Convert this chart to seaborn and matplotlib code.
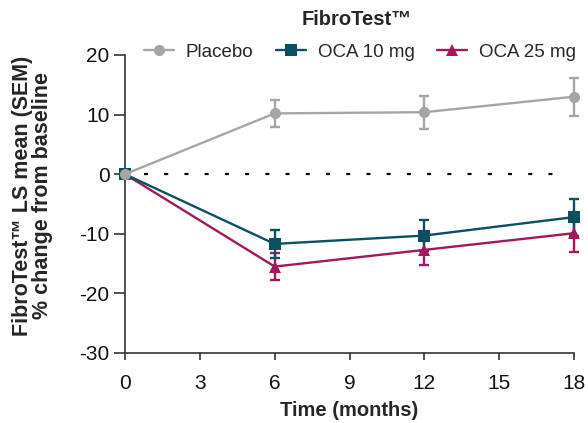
import numpy
import pandas
import seaborn
import matplotlib.pyplot as pyplot

seaborn.set_style('ticks')
pyplot.rcParams['font.family'] = ['Liberation Sans', 'DejaVu Sans']
pyplot.rcParams['axes.unicode_minus'] = False

months = [0, 6, 12, 18]
groups = ["Placebo", "OCA 10 mg", "OCA 25 mg"]
placebo_mean = [0, 10.2, 10.4, 13.0]
placebo_sem = [0, 2.2, 2.8, 3.2]
oca10_mean = [0, -11.7, -10.3, -7.2]
oca10_sem = [0, 2.3, 2.6, 3.1]
oca25_mean = [0, -15.5, -12.7, -9.9]
oca25_sem = [0, 2.3, 2.5, 3.1]

colors = {"Placebo": "#a5a5a8", "OCA 10 mg": "#0b5060", "OCA 25 mg": "#a2185a"}
markers = {"Placebo": "o", "OCA 10 mg": "s", "OCA 25 mg": "^"}

df = pandas.DataFrame({
    "month": months * 3,
    "group": numpy.repeat(groups, len(months)),
    "mean": placebo_mean + oca10_mean + oca25_mean,
    "sem": placebo_sem + oca10_sem + oca25_sem,
})

fig = pyplot.figure(figsize=(5.88, 4.23), dpi=100)
ax = fig.add_axes([0.2126, 0.1655, 0.7636, 0.7045])

# dotted zero line
ax.plot([0.75, 17.7], [0, 0], color="black", linewidth=1.6, linestyle=(0, (1.8, 7.3)), zorder=1)

order = ["OCA 25 mg", "OCA 10 mg", "Placebo"]
for g in order:
    sub = df[df.group == g]
    ax.errorbar(sub["month"], sub["mean"], yerr=sub["sem"], fmt="none",
                ecolor=colors[g], elinewidth=1.7, capsize=3.3, capthick=1.7,
                zorder=3, clip_on=False)

seaborn.lineplot(data=df, x="month", y="mean", hue="group", style="group",
                 hue_order=order, style_order=order, palette=colors,
                 markers=markers, dashes=False, markersize=8, markeredgewidth=0,
                 linewidth=1.7, legend=False, ax=ax, zorder=4, clip_on=False)

ax.set_xlim(0, 18)
ax.set_ylim(-30, 20)
ax.set_xticks([0, 3, 6, 9, 12, 15, 18])
ax.set_yticks([-30, -20, -10, 0, 10, 20])
ax.tick_params(axis="both", labelsize=15, width=1.2, color="#333333", labelcolor="#111111")
ax.tick_params(axis="y", length=8, pad=3)
ax.tick_params(axis="x", length=5, pad=10)
for s in ["top", "right"]:
    ax.spines[s].set_visible(False)
for s in ["left", "bottom"]:
    ax.spines[s].set_linewidth(1.2)
    ax.spines[s].set_color("#333333")

ax.set_xlabel("Time (months)", fontsize=14.5, fontweight="bold", labelpad=6)
ax.set_ylabel("")
fig.text(0.055, 0.537, "FibroTest™ LS mean (SEM)\n% change from baseline", rotation=90,
         ha="center", va="center", multialignment="center", fontsize=15.5,
         fontweight="bold", linespacing=0.95)

handles = [pyplot.Line2D([], [], color=colors[g], marker=markers[g], markersize=8,
                         markeredgewidth=0, linewidth=1.7) for g in groups]
fig.legend(handles, groups, ncol=3, loc="center", bbox_to_anchor=(0.612, 0.877),
           frameon=False, fontsize=13.5, handlelength=1.6, columnspacing=1.2,
           handletextpad=0.64, borderaxespad=0, borderpad=0)

fig.text(0.607, 0.955, "FibroTest™", ha="center", va="center", fontsize=14.5, fontweight="bold")

fig.savefig("out.png", dpi=100)
